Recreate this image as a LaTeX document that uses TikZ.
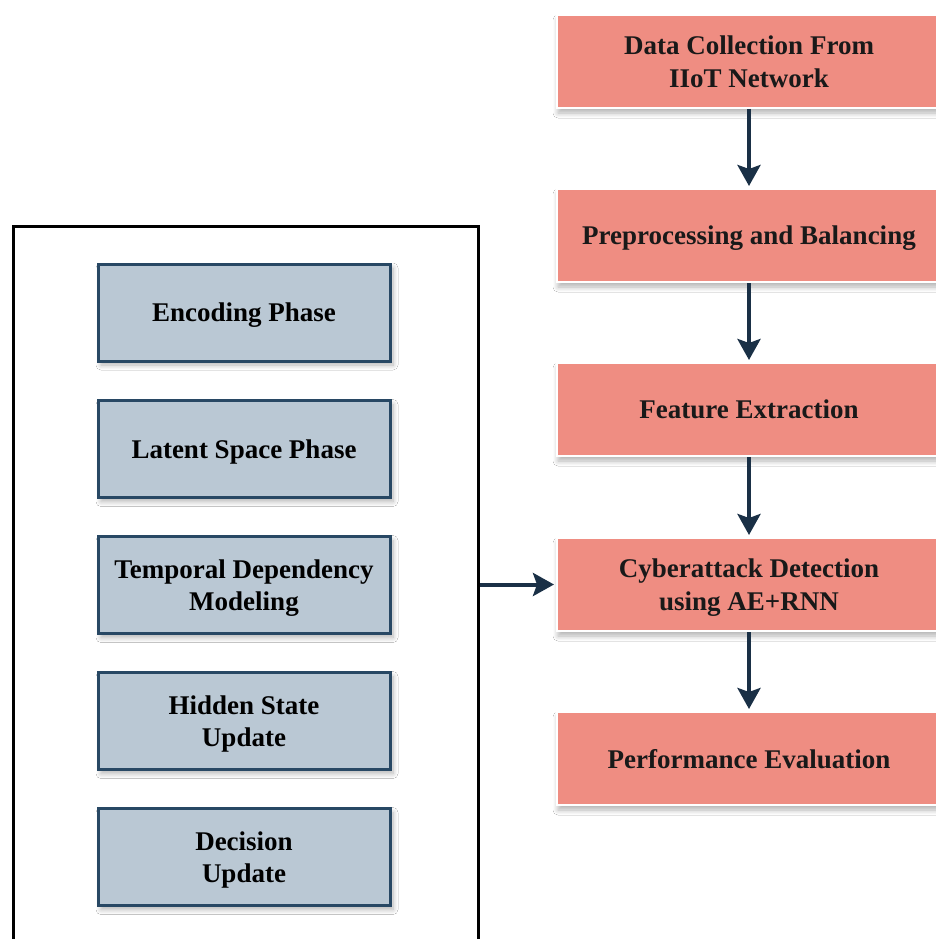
\documentclass[tikz,border=0pt]{standalone}
\usepackage{fontspec}
\setmainfont{Liberation Serif}
\usetikzlibrary{arrows.meta,shadows.blur}
\definecolor{pinkfill}{RGB}{239,141,130}
\definecolor{bluefill}{RGB}{186,200,212}
\definecolor{blueedge}{RGB}{40,72,100}
\definecolor{arrowcol}{RGB}{26,48,70}
\definecolor{txt}{RGB}{25,25,25}
\tikzset{
  pinkbox/.style={rectangle, fill=pinkfill, draw=white, line width=2pt,
    minimum width=384pt, minimum height=93pt, align=center, text=txt, text depth=0pt,
    font=\bfseries\fontsize{27}{33}\selectfont,
    blur shadow={shadow xshift=1pt, shadow yshift=-5pt, shadow blur radius=5pt, shadow blur steps=8, shadow opacity=30}},
  bluebox/.style={rectangle, fill=bluefill, draw=blueedge, line width=3pt,
    minimum width=292pt, minimum height=97pt, align=center, text=black, text depth=0pt,
    font=\bfseries\fontsize{27}{32}\selectfont,
    blur shadow={shadow xshift=3pt, shadow yshift=-4pt, shadow blur radius=5pt, shadow blur steps=8, shadow opacity=30}},
  flow/.style={draw=arrowcol, line width=4pt, -{Stealth[length=21pt,width=23pt,inset=4pt]}, shorten >=2pt}
}
\begin{document}
\begin{tikzpicture}[x=1pt,y=-1pt]
\useasboundingbox (0,0) rectangle (936,939);
\clip (0,0) rectangle (936,939);
\fill[white] (0,0) rectangle (936,939);
% right column
\node[pinkbox] (p1) at (749,61.5) {Data Collection From\\IIoT Network};
\node[pinkbox] (p2) at (749,235.5) {Preprocessing and Balancing};
\node[pinkbox] (p3) at (749,409.5) {Feature Extraction};
\node[pinkbox] (p4) at (749,584.5) {Cyberattack Detection\\using AE+RNN};
\node[pinkbox] (p5) at (749,758.5) {Performance Evaluation};
\draw[flow] (p1) -- (p2);
\draw[flow] (p2) -- (p3);
\draw[flow] (p3) -- (p4);
\draw[flow] (p4) -- (p5);
% left panel
\node[draw=black, line width=3pt, minimum width=465pt, minimum height=740pt, anchor=north west, inner sep=0pt] (panel) at (12,225) {};
\node[bluebox] (b1) at (244,312.5) {Encoding Phase};
\node[bluebox] (b2) at (244,449) {Latent Space Phase};
\node[bluebox] (b3) at (244,585) {Temporal Dependency\\Modeling};
\node[bluebox] (b4) at (244,721) {Hidden State\\Update};
\node[bluebox] (b5) at (244,857) {Decision\\Update};
\draw[flow] (panel.east |- p4) -- (p4.west);
\end{tikzpicture}
\end{document}
